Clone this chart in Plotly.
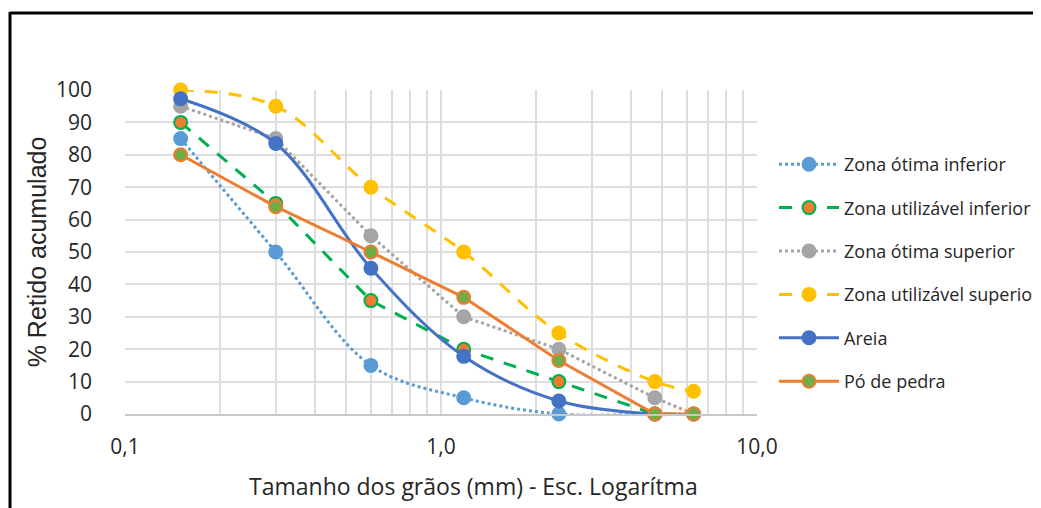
import plotly.graph_objects as go

sieves = [0.15, 0.3, 0.6, 1.18, 2.36, 4.75, 6.3]

otima_inf = [85, 50, 15, 5, 0, 0, 0]
utilizavel_inf = [90, 65, 35, 20, 10, 0, 0]
otima_sup = [95, 85, 55, 30, 20, 5, 0]
utilizavel_sup = [100, 95, 70, 50, 25, 10, 7]
areia = [97.3, 83.5, 45.0, 17.8, 4.0, 0.0]
po_pedra = [80, 64, 50, 36, 16.5, 0, 0]

x_tickvals = [0.1, 0.2, 0.3, 0.4, 0.5, 0.6, 0.7, 0.8, 0.9, 1,
              2, 3, 4, 5, 6, 7, 8, 9, 10]
x_ticklabels = {0.1: "0,1", 1: "1,0", 10: "10,0"}
x_title = "Tamanho dos grãos (mm) - Esc. Logarítma"
y_title = "% Retido acumulado"

C_LBLUE = "#5B9BD5"
C_GREEN = "#00B050"
C_ORANGE = "#ED7D31"
C_GRAY = "#A5A5A5"
C_GOLD = "#FFC000"
C_BLUE = "#4472C4"
C_LGREEN = "#70AD47"

FONT = "Open Sans"
TXT = "#262626"

fig = go.Figure()

def add(name, y, color, dash, shape, mfill, mline, group):
    fig.add_trace(go.Scatter(
        x=sieves[:len(y)], y=y, name=name, mode="lines+markers",
        line=dict(color=color, width=3, dash=dash, shape=shape, smoothing=1),
        marker=dict(size=13, color=mfill, line=dict(color=mline, width=2)),
        cliponaxis=False, legendgroup=group,
    ))

add("Zona ótima inferior", otima_inf, C_LBLUE, "dot", "spline", C_LBLUE, C_LBLUE, "g1")
add("Zona utilizável inferior", utilizavel_inf, C_GREEN, "13px,11px", "linear", C_ORANGE, C_GREEN, "g2")
add("Zona ótima superior", otima_sup, C_GRAY, "dot", "linear", C_GRAY, C_GRAY, "g3")
add("Zona utilizável superior", utilizavel_sup, C_GOLD, "13px,11px", "spline", C_GOLD, C_GOLD, "g4")
add("Areia", areia, C_BLUE, "solid", "spline", C_BLUE, C_BLUE, "g5")
add("Pó de pedra", po_pedra, C_ORANGE, "solid", "linear", C_LGREEN, C_ORANGE, "g6")

# page body has an 8px margin; figure coordinates = page coordinates - 8
OFF = 8
W, H = 1041 - OFF, 508 - OFF
PL, PR, PT, PB = 125, 757, 90, 414  # plot area in page pixels
L, T = PL - OFF, PT - OFF
R, B = W - (PR - OFF), H - (PB - OFF)
pw, ph = W - L - R, H - T - B

def px(xp):
    return (xp - OFF - L) / pw

def py(yp):
    return (H - B - (yp - OFF)) / ph

shapes = [
    dict(type="line", xref="x", yref="paper", x0=1, x1=1, y0=0, y1=1,
         line=dict(color="#BFBFBF", width=2), layer="below"),
    dict(type="line", xref="paper", yref="paper", x0=px(10), x1=px(1100), y0=py(13), y1=py(13),
         line=dict(color="black", width=3)),
    dict(type="line", xref="paper", yref="paper", x0=px(10), x1=px(10), y0=py(12), y1=py(560),
         line=dict(color="black", width=3)),
]

annotations = [
    dict(text=x_title, xref="paper", yref="paper", x=px(473), y=py(486),
         xanchor="center", yanchor="middle", showarrow=False,
         font=dict(family=FONT, size=23, color=TXT)),
]

fig.update_layout(
    width=W, height=H,
    margin=dict(l=L, r=R, t=T, b=B, autoexpand=False),
    paper_bgcolor="white", plot_bgcolor="white",
    font=dict(family=FONT, color=TXT),
    shapes=shapes,
    annotations=annotations,
    showlegend=True,
    legend=dict(
        x=px(774), y=py(146), xanchor="left", yanchor="top",
        font=dict(family=FONT, size=18, color=TXT),
        traceorder="grouped", tracegroupgap=17, itemwidth=60,
        bgcolor="rgba(0,0,0,0)",
    ),
    xaxis=dict(
        type="log", range=[-1, 1],
        tickvals=x_tickvals,
        ticktext=[x_ticklabels.get(v, "") for v in x_tickvals],
        showgrid=True, gridcolor="#DEDEDE", gridwidth=1.5,
        showline=True, linecolor="#C8C8C8", linewidth=2,
        ticks="", ticklabelstandoff=13,
        tickfont=dict(family=FONT, size=21, color=TXT),
        zeroline=False,
    ),
    yaxis=dict(
        range=[0, 100], dtick=10,
        showgrid=True, gridcolor="#DEDEDE", gridwidth=1.5,
        showline=False, zeroline=False,
        ticks="", ticklabelstandoff=32,
        tickfont=dict(family=FONT, size=21, color=TXT),
        title=dict(text=y_title,
                   font=dict(family="Liberation Sans", size=25, color=TXT), standoff=2),
    ),
)

fig.write_html("out.html")
